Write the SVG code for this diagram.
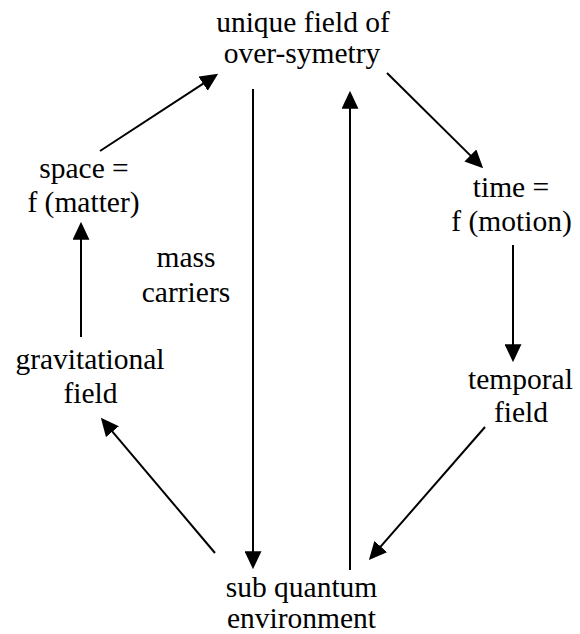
<svg xmlns="http://www.w3.org/2000/svg" width="580" height="634" viewBox="0 0 580 634">
<style>
.c line{stroke:#000;stroke-width:2;marker-end:url(#ah)}
.t{font-family:'Liberation Serif','Nimbus Roman','Nimbus Roman No9 L',FreeSerif,'Noto Serif','DejaVu Serif',Tinos,Times,serif;font-size:29.5px;fill:#000;text-anchor:middle}
</style>
<defs>
<marker id="ah" markerUnits="userSpaceOnUse" markerWidth="18" markerHeight="17" viewBox="0 0 17 16" refX="14" refY="8" orient="auto">
<path d="M0,0 L17,8 L0,16 z" fill="#000"/>
</marker>
</defs>
<rect width="580" height="634" fill="#fff"/>
<g class="t">
<g id="unique"><text x="303" y="31.5">unique field of</text><text x="302" y="63">over-symetry</text></g>
<g id="space"><text x="84" y="177.5">space =</text><text x="83.5" y="211.5">f (matter)</text></g>
<g id="time"><text x="511" y="196.5">time =</text><text x="511.5" y="231">f (motion)</text></g>
<g id="gravitational"><text x="90" y="369">gravitational</text><text x="90.5" y="402.5">field</text></g>
<g id="temporal"><text x="520.5" y="389">temporal</text><text x="521" y="421.5">field</text></g>
<g id="sub"><text x="301.5" y="597">sub quantum</text><text x="301.5" y="628">environment</text></g>
<g id="mass"><text x="186" y="266.5">mass</text><text x="186" y="302">carriers</text></g>
</g>
<g class="c" id="connectors">
<line x1="100" y1="151" x2="215.5" y2="75.6"/>
<line x1="253" y1="89" x2="253" y2="566"/>
<line x1="350" y1="570" x2="350" y2="94"/>
<line x1="387" y1="73" x2="480.9" y2="165.9"/>
<line x1="513" y1="245" x2="513" y2="359"/>
<line x1="485" y1="427" x2="371" y2="557.7"/>
<line x1="215" y1="553" x2="102.9" y2="420.3"/>
<line x1="81" y1="337" x2="81" y2="225"/>
</g>
</svg>
